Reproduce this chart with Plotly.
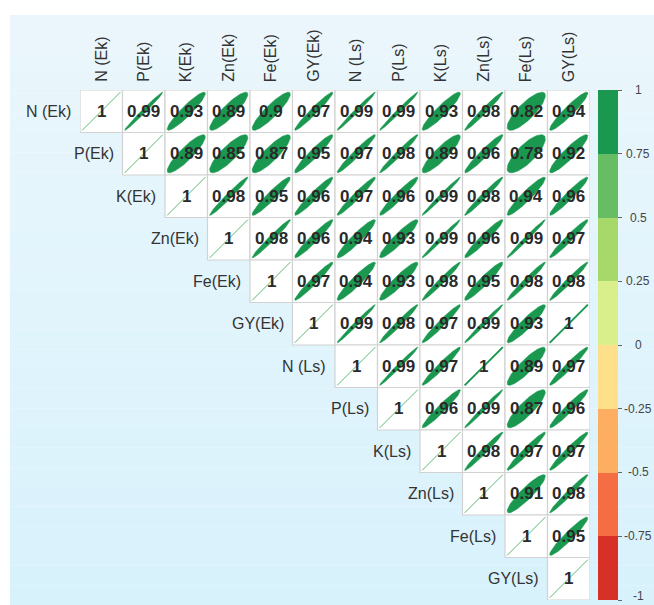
import numpy as np
import plotly.graph_objects as go

labels = ["N (Ek)", "P(Ek)", "K(Ek)", "Zn(Ek)", "Fe(Ek)", "GY(Ek)",
          "N (Ls)", "P(Ls)", "K(Ls)", "Zn(Ls)", "Fe(Ls)", "GY(Ls)"]

# upper triangle rows (starting at diagonal)
row_N_Ek = [1, 0.99, 0.93, 0.89, 0.9, 0.97, 0.99, 0.99, 0.93, 0.98, 0.82, 0.94]
row_P_Ek = [1, 0.89, 0.85, 0.87, 0.95, 0.97, 0.98, 0.89, 0.96, 0.78, 0.92]
row_K_Ek = [1, 0.98, 0.95, 0.96, 0.97, 0.96, 0.99, 0.98, 0.94, 0.96]
row_Zn_Ek = [1, 0.98, 0.96, 0.94, 0.93, 0.99, 0.96, 0.99, 0.97]
row_Fe_Ek = [1, 0.97, 0.94, 0.93, 0.98, 0.95, 0.98, 0.98]
row_GY_Ek = [1, 0.99, 0.98, 0.97, 0.99, 0.93, 1]
row_N_Ls = [1, 0.99, 0.97, 1, 0.89, 0.97]
row_P_Ls = [1, 0.96, 0.99, 0.87, 0.96]
row_K_Ls = [1, 0.98, 0.97, 0.97]
row_Zn_Ls = [1, 0.91, 0.98]
row_Fe_Ls = [1, 0.95]
row_GY_Ls = [1]

rows = [row_N_Ek, row_P_Ek, row_K_Ek, row_Zn_Ek, row_Fe_Ek, row_GY_Ek,
        row_N_Ls, row_P_Ls, row_K_Ls, row_Zn_Ls, row_Fe_Ls, row_GY_Ls]

bin_colors = ["#d73027", "#f46d43", "#fdae61", "#fee08b",
              "#d9ef8b", "#a6d96a", "#66bd63", "#1a9850"]
cbar_ticks = [-1, -0.75, -0.5, -0.25, 0, 0.25, 0.5, 0.75, 1]
cbar_text = ["-1", "-0.75", "-0.5", "-0.25", "0", "0.25", "0.5", "0.75", "1"]

W, H = 654, 605
n = len(labels)
FONT = "Liberation Sans, Arial, sans-serif"

# colorbar geometry (pixels)
CB_LEFT, CB_TOP, CB_LEN = 598, 90, 510


def color_for(r):
    idx = int(np.clip(np.floor((r + 1) / 0.25), 0, 7))
    return bin_colors[idx]


fig = go.Figure()
shapes = []

# background gradient
top = np.array([0xEB, 0xF7, 0xFC])
bot = np.array([0xD8, 0xF2, 0xFC])
nb = 30
y_top = (H - 15) / H
for k in range(nb):
    c = top + (bot - top) * (k + 0.5) / nb
    shapes.append(dict(type="rect", xref="paper", yref="paper",
                       x0=10 / W, x1=1.0,
                       y0=y_top * (1 - (k + 1) / nb), y1=y_top * (1 - k / nb),
                       fillcolor="rgb(%d,%d,%d)" % tuple(c.astype(int)),
                       line=dict(width=0), layer="below"))

# cells
for i in range(n):
    for j in range(i, n):
        shapes.append(dict(type="rect", xref="x", yref="y",
                           x0=j - 0.5, x1=j + 0.5, y0=i - 0.5, y1=i + 0.5,
                           fillcolor="white", line=dict(color="#d2d2d2", width=1.2),
                           layer="below"))

t = np.linspace(0, 2 * np.pi, 80)
annotations = []
for i, row in enumerate(rows):
    for k, r in enumerate(row):
        j = i + k
        d = np.arccos(np.clip(r, -1, 1))
        ex = j + 0.45 * np.cos(t + d / 2)
        ey = i - 0.45 * np.cos(t - d / 2)
        if j == i:
            fig.add_trace(go.Scatter(x=[j - 0.45, j + 0.45], y=[i + 0.45, i - 0.45],
                                     mode="lines", line=dict(color="#5cb874", width=1),
                                     hoverinfo="skip", showlegend=False))
        elif r >= 0.999:
            fig.add_trace(go.Scatter(x=[j - 0.45, j + 0.45], y=[i + 0.45, i - 0.45],
                                     mode="lines", line=dict(color=color_for(r), width=2),
                                     hoverinfo="skip", showlegend=False))
        else:
            fig.add_trace(go.Scatter(x=ex, y=ey, mode="lines", fill="toself",
                                     fillcolor=color_for(r),
                                     line=dict(color=color_for(r), width=0.5),
                                     hoverinfo="skip", showlegend=False))
        txt = "1" if r == 1 else ("%g" % r)
        annotations.append(dict(x=j, y=i, xref="x", yref="y", text="<b>%s</b>" % txt,
                                showarrow=False,
                                font=dict(family=FONT, size=17, color="#2a2a2a")))

# labels
for i, lab in enumerate(labels):
    annotations.append(dict(x=i, y=-0.5, xref="x", yref="y", text=lab,
                            showarrow=False, textangle=-90, yanchor="bottom",
                            xanchor="center", yshift=6,
                            font=dict(family=FONT, size=16, color="#333333")))
    annotations.append(dict(x=i - 0.5, y=i, xref="x", yref="y", text=lab,
                            showarrow=False, xanchor="right", yanchor="middle",
                            xshift=-7,
                            font=dict(family=FONT, size=16, color="#333333")))

# colorbar labels, centred like the reference
for v, s in zip(cbar_ticks, cbar_text):
    ypx = CB_TOP + (1 - v) / 2 * CB_LEN
    if v == -1:
        annotations.append(dict(x=638 / W, y=0, xref="paper", yref="paper",
                                text=s, showarrow=False, xanchor="center",
                                yanchor="bottom",
                                font=dict(family=FONT, size=12, color="#444444")))
    else:
        annotations.append(dict(x=638 / W, y=(H - ypx) / H, xref="paper", yref="paper",
                                text=s, showarrow=False, xanchor="center",
                                yanchor="middle",
                                font=dict(family=FONT, size=12, color="#444444")))

# colorbar via dummy trace
cs = []
for b, c in enumerate(bin_colors):
    cs.append([b / 8, c])
    cs.append([(b + 1) / 8, c])
fig.add_trace(go.Scatter(
    x=[0], y=[0], mode="markers", hoverinfo="skip", showlegend=False,
    marker=dict(size=0.1, opacity=0, color=[0], colorscale=cs, cmin=-1, cmax=1,
                showscale=True,
                colorbar=dict(x=CB_LEFT / W, xanchor="left",
                              y=(H - (CB_TOP + CB_LEN / 2)) / H,
                              yanchor="middle", lenmode="pixels", len=CB_LEN,
                              thickness=20, outlinewidth=0, xpad=0, ypad=0,
                              ticks="outside", ticklen=4, tickcolor="#666666",
                              tickvals=cbar_ticks, showticklabels=False))))

fig.update_layout(
    width=W, height=H,
    margin=dict(l=0, r=0, t=0, b=0),
    paper_bgcolor="white", plot_bgcolor="rgba(0,0,0,0)",
    shapes=shapes, annotations=annotations,
    xaxis=dict(range=[-0.5, n - 0.5], domain=[80 / W, 590 / W], visible=False,
               fixedrange=True),
    yaxis=dict(range=[n - 0.5, -0.5], domain=[(H - 600) / H, (H - 90) / H],
               visible=False, fixedrange=True),
    showlegend=False,
)

fig.write_html("out.html", config={"displayModeBar": False},
               post_script="document.body.style.margin='0';document.body.style.overflow='hidden';")
